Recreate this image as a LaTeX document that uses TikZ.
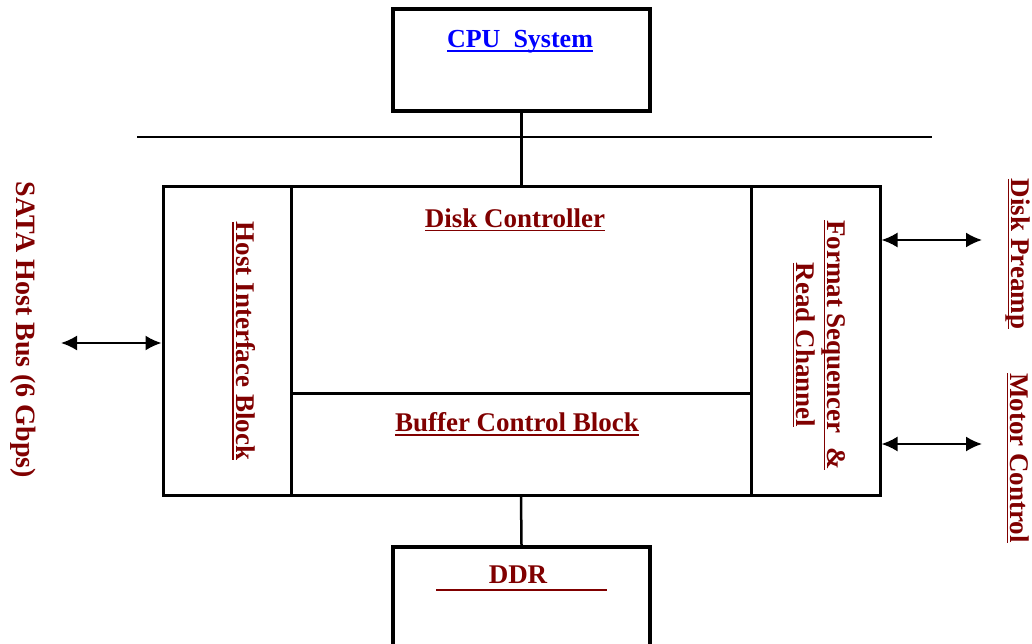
\documentclass[tikz,border=0pt]{standalone}
\usepackage{fontspec}
\setmainfont{Liberation Serif}
\usetikzlibrary{arrows.meta}
\definecolor{dred}{HTML}{800000}
\definecolor{linkblue}{HTML}{0000FF}
\newcommand{\ulx}[1]{\setbox0\hbox{#1}\leavevmode\rlap{\rule[-4pt]{\wd0}{1.8pt}}\box0}
\begin{document}
\begin{tikzpicture}[x=1pt,y=-1pt,
  blk/.style={draw, line width=3pt, rectangle, inner sep=0pt},
  heavyblk/.style={blk, line width=4pt},
  lbl/.style={font=\fontsize{27}{31}\selectfont\bfseries, text=dred, inner sep=0pt},
  conn/.style={line width=2.5pt},
  biarrow/.style={line width=2pt, {Latex[length=16pt,width=15pt]}-{Latex[length=16pt,width=15pt]}},
]
\useasboundingbox (0,0) rectangle (1032,644);
\clip (0,0) rectangle (1032,644);
% boxes
\node[heavyblk, minimum width=257pt, minimum height=102pt] (cpu) at (521.5,60) {};
\node[blk, minimum width=717pt, minimum height=308pt] (main) at (521.5,341) {};
\node[blk, minimum width=128pt, minimum height=308pt] (host) at (227,341) {};
\node[blk, minimum width=129pt, minimum height=308pt] (format) at (815.5,341) {};
\node[blk, minimum width=460pt, minimum height=206pt] (dc) at (521,290) {};
\node[blk, minimum width=460pt, minimum height=102pt] (buf) at (521,444) {};
\node[heavyblk, minimum width=257pt, minimum height=120pt] (ddr) at (521.5,607) {};
% bus
\coordinate (busL) at (137,137);
\coordinate (busR) at (932,137);
\draw[conn] (busL) -- (busR);
\draw[conn] (cpu.south) -- (main.north);
\draw[conn] (buf.south) -- (ddr.north);
% labels
\node[lbl, text=linkblue, font=\fontsize{26}{30}\selectfont\bfseries] (cputxt) at (520,42) {\ulx{CPU\ \ System}};
\node[lbl] (dctxt) at (515,220) {\ulx{Disk Controller}};
\node[lbl] (buftxt) at (517,424) {\ulx{Buffer Control Block}};
\node[lbl] (ddrtxt) at (518,575) {DDR};
\coordinate (ddrL) at (436,590);
\coordinate (ddrR) at (607,590);
\draw[dred, line width=2.5pt] (ddrL) -- (ddrR);
\node[lbl, rotate=-90, font=\fontsize{28}{31}\selectfont\bfseries] (satatxt) at (23,330) {SATA Host Bus (6 Gbps)};
\node[lbl, rotate=-90] (hosttxt) at (244,341) {\ulx{Host Interface Block}};
\node[lbl, rotate=-90, align=center] (formattxt) at (819,345) {\ulx{Format Sequencer\ \ \&}\\\ulx{Read Channel}};
\node[lbl, rotate=-90] (dptxt) at (1018,254) {\ulx{Disk Preamp}};
\node[lbl, rotate=-90] (mctxt) at (1018,458) {\ulx{Motor Control}};
% arrows
\coordinate (sataEnd) at (61,343);
\draw[biarrow] (sataEnd) -- (sataEnd -| host.west);
\coordinate (dpEnd) at (982,240);
\draw[biarrow] (dpEnd -| format.east) -- (dpEnd);
\coordinate (mcEnd) at (982,444);
\draw[biarrow] (mcEnd -| format.east) -- (mcEnd);
\end{tikzpicture}
\end{document}
